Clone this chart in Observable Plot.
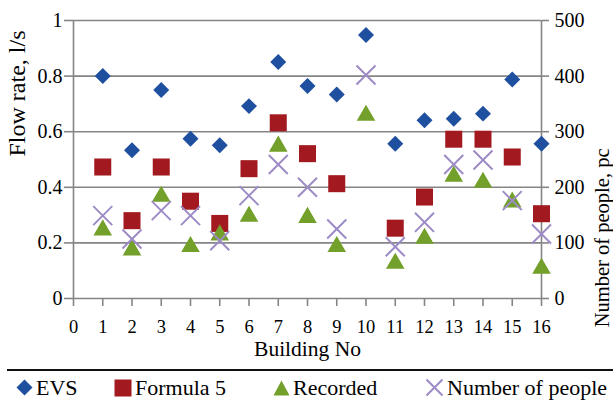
<!DOCTYPE html>
<html>
<head>
<meta charset="utf-8">
<script src="https://cdn.jsdelivr.net/npm/d3@7"></script>
<script src="https://cdn.jsdelivr.net/npm/@observablehq/plot@0.6"></script>
<style>
  html, body { margin: 0; padding: 0; background: #fff; }
  body { width: 613px; height: 404px; overflow: hidden; font-family: "Liberation Serif", "Times New Roman", serif; }
  svg text { font-family: "Liberation Serif", "Times New Roman", serif; }
  #legend { position: relative; height: 33px; margin-left: 7px; border-top: 2.5px solid #111; }
  .item { position: absolute; top: 0; height: 33px; display: flex; align-items: center; font-size: 22px; color: #000; white-space: nowrap; }
  .item svg { margin-right: 3px; }
</style>
</head>
<body>
<div id="chart"></div>
<div id="legend"></div>
<script>
// ---- data ----
const buildings = [1, 2, 3, 4, 5, 6, 7, 8, 9, 10, 11, 12, 13, 14, 15, 16];
const evs       = [0.80, 0.533, 0.75, 0.575, 0.551, 0.692, 0.851, 0.764, 0.734, 0.948, 0.557, 0.641, 0.647, 0.665, 0.788, 0.557];
const formula5  = [0.473, 0.28, 0.473, 0.35, 0.27, 0.467, 0.632, 0.521, 0.413, null, 0.253, 0.365, 0.573, 0.573, 0.509, 0.305];
const recorded  = [0.256, 0.184, 0.377, 0.196, 0.238, 0.305, 0.557, 0.301, 0.196, 0.668, 0.136, 0.226, 0.449, 0.427, 0.356, 0.118];
const people    = [149, 107, 158, 149, 104, 185, 241, 200, 125, 402, 93, 137, 241, 249, 176, 116];

const xTicks = [0, 1, 2, 3, 4, 5, 6, 7, 8, 9, 10, 11, 12, 13, 14, 15, 16];
const leftTicks = [0, 0.2, 0.4, 0.6, 0.8, 1];
const rightTicks = [0, 100, 200, 300, 400, 500];
const peopleMax = 500;

const seriesNames = ["EVS", "Formula 5", "Recorded", "Number of people"];
const colors = { evs: "#1f4f9f", f5: "#a2191f", rec: "#72a02a", ppl: "#9d8bc6" };

const rows = buildings.map((b, i) => ({ b, evs: evs[i], f5: formula5[i], rec: recorded[i], ppl: people[i] }));

const gridColor = "#858585";
const serif = "'Liberation Serif', 'Times New Roman', serif";

const chart = Plot.plot({
  width: 613,
  height: 369,
  marginLeft: 73,
  marginRight: 72,
  marginTop: 20,
  marginBottom: 71,
  style: { fontFamily: serif, background: "#fff", color: "#000" },
  x: { domain: [0, 16] },
  y: { domain: [0, 1] },
  marks: [
    Plot.gridY(leftTicks.filter(d => d > 0), { stroke: gridColor, strokeOpacity: 1, strokeWidth: 1.6 }),
    Plot.ruleY([0], { stroke: gridColor, strokeWidth: 1.6 }),
    Plot.ruleX([0, 16], { stroke: gridColor, strokeWidth: 1.6 }),
    Plot.axisX({ ticks: xTicks, tickSize: 8, tickPadding: 13, tickFormat: d => String(d), label: null,
                 stroke: gridColor, strokeWidth: 1.6, fill: "#000", fontSize: 18.5 }),
    Plot.axisY({ anchor: "left", ticks: leftTicks, tickSize: 9, tickPadding: 2, tickFormat: d => String(d), label: null,
                 stroke: gridColor, strokeWidth: 1.6, fill: "#000", fontSize: 20 }),
    Plot.axisY({ anchor: "right", ticks: rightTicks.map(v => v / peopleMax), tickSize: 7, tickPadding: 6,
                 tickFormat: d => String(Math.round(d * peopleMax)), label: null,
                 stroke: gridColor, strokeWidth: 1.6, fill: "#000", fontSize: 20 }),
    Plot.text(["Building No"], { text: d => d, frameAnchor: "bottom", dy: 57, fontSize: 21.5, fill: "#000" }),
    Plot.text(["Flow rate, l/s"], { text: d => d, frameAnchor: "left", dx: -56, dy: -3, rotate: -90, fontSize: 24, fill: "#000" }),
    Plot.text(["Number of people, pc"], { text: d => d, frameAnchor: "right", dx: 61, dy: -11, rotate: -90, fontSize: 20.5, fill: "#000" }),
    Plot.dot(rows, { x: "b", y: "evs", symbol: "diamond2", r: 7.2, fill: colors.evs, stroke: "none" }),
    Plot.dot(rows.filter(d => d.f5 != null), { x: "b", y: "f5", symbol: "square", r: 9.6, fill: colors.f5, stroke: "none" }),
    Plot.dot(rows, { x: "b", y: "rec", symbol: "triangle", r: 6.9, dy: 2.7, fill: colors.rec, stroke: "none" }),
    Plot.dot(rows, { x: "b", y: d => d.ppl / peopleMax, symbol: "times", r: 8.7, stroke: colors.ppl, strokeWidth: 2, fill: "none" })
  ]
});
document.getElementById("chart").appendChild(chart);

// ---- legend ----
const legendSymbols = [
  `<svg width="17" height="17" viewBox="-8.5 -8.5 17 17"><path d="M0,-8L8,0L0,8L-8,0Z" fill="${colors.evs}"/></svg>`,
  `<svg width="18" height="18" viewBox="-9 -9 18 18"><rect x="-8.5" y="-8.5" width="17" height="17" fill="${colors.f5}"/></svg>`,
  `<svg width="17" height="16" viewBox="-8.5 -8 17 16"><path d="M0,-7.5L8,7.5L-8,7.5Z" fill="${colors.rec}"/></svg>`,
  `<svg width="19" height="19" viewBox="-9.5 -9.5 19 19"><path d="M-8,-8L8,8M8,-8L-8,8" stroke="${colors.ppl}" stroke-width="2"/></svg>`
];
const legendLeft = [9, 107, 266, 418];
const legend = document.getElementById("legend");
seriesNames.forEach((name, i) => {
  const div = document.createElement("div");
  div.className = "item";
  div.style.left = legendLeft[i] + "px";
  div.innerHTML = legendSymbols[i] + `<span>${name}</span>`;
  legend.appendChild(div);
});
</script>
</body>
</html>
